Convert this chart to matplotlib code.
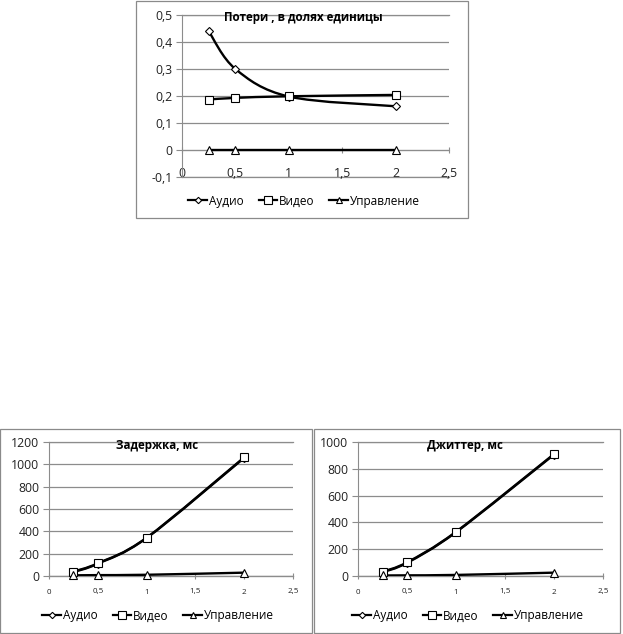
import matplotlib
matplotlib.use("Agg")
import matplotlib.pyplot as plt
from matplotlib.path import Path
from matplotlib.patches import PathPatch, Rectangle
from matplotlib.lines import Line2D
from matplotlib.ticker import FuncFormatter

plt.rcParams['font.family'] = ['Open Sans', 'DejaVu Sans']

# данные
x = [0.25, 0.5, 1, 2]

loss_audio = [0.44, 0.30, 0.198, 0.162]
loss_video = [0.187, 0.193, 0.199, 0.204]
loss_ctrl = [0, 0, 0, 0]

delay_audio = [35, 110, 340, 1058]
delay_video = [40, 114, 343, 1063]
delay_ctrl = [6, 8, 11, 30]

jitter_audio = [28, 98, 327, 906]
jitter_video = [32, 102, 330, 910]
jitter_ctrl = [4, 5, 8, 25]

names = ['Аудио', 'Видео', 'Управление']
markers = ['D', 's', '^']
msizes = [3.8, 6.2, 5.8]

W, H = 623, 634
fig = plt.figure(figsize=(W / 100, H / 100), dpi=100)
GRID = '#8c8c8c'


def px_rect(x0, y0, x1, y1):
    return [x0 / W, 1 - y1 / H, (x1 - x0) / W, (y1 - y0) / H]


def smooth(ax, xs, ys, lw):
    # сглаженная линия как в Excel (Catmull-Rom -> Безье)
    pts = list(zip(xs, ys))
    ext = [pts[0]] + pts + [pts[-1]]
    verts = [pts[0]]
    codes = [Path.MOVETO]
    for i in range(1, len(ext) - 2):
        p0, p1, p2, p3 = ext[i - 1], ext[i], ext[i + 1], ext[i + 2]
        c1 = (p1[0] + (p2[0] - p0[0]) / 6, p1[1] + (p2[1] - p0[1]) / 6)
        c2 = (p2[0] - (p3[0] - p1[0]) / 6, p2[1] - (p3[1] - p1[1]) / 6)
        verts += [c1, c2, p2]
        codes += [Path.CURVE4] * 3
    ax.add_patch(PathPatch(Path(verts, codes), fill=False, ec='black', lw=lw,
                           zorder=3, capstyle='round'))


def comma(v, pos):
    s = ('%g' % round(v, 6)).replace('.', ',')
    return s


def make_chart(rect, series, ylim, ystep, title, title_xy, tick_fs, xtick_fs,
               xlab_pad, leg_xy, box):
    fig.patches.append(Rectangle((box[0] / W, 1 - box[3] / H),
                                 (box[2] - box[0]) / W, (box[3] - box[1]) / H,
                                 transform=fig.transFigure, fill=False,
                                 ec='#8a8a8a', lw=0.9))
    ax = fig.add_axes(rect)
    ax.set_xlim(0, 2.5)
    ax.set_ylim(*ylim)
    ax.patch.set_alpha(0)
    for s in ['top', 'right']:
        ax.spines[s].set_visible(False)
    ax.spines['left'].set_color(GRID)
    ax.spines['bottom'].set_color(GRID)
    ax.spines['bottom'].set_position(('data', 0))
    yt = []
    v = ylim[0]
    while v <= ylim[1] + 1e-9:
        yt.append(round(v, 6))
        v += ystep
    ax.set_yticks(yt)
    ax.set_xticks([0, 0.5, 1, 1.5, 2, 2.5])
    ax.xaxis.set_major_formatter(FuncFormatter(comma))
    ax.yaxis.set_major_formatter(FuncFormatter(comma))
    ax.grid(axis='y', color=GRID, lw=0.9)
    for yv in (ylim[0], ylim[1]):
        ax.axhline(yv, color=GRID, lw=0.9, clip_on=False, zorder=1)
    ax.tick_params(axis='y', length=4, color=GRID, labelsize=tick_fs, pad=3,
                   labelcolor='#222222')
    ax.tick_params(axis='x', length=4, direction='inout', color=GRID,
                   labelsize=xtick_fs, pad=xlab_pad, labelcolor='#222222')
    for (ys, lw), mk, ms in zip(series, markers, msizes):
        smooth(ax, x, ys, lw)
        ax.plot(x, ys, ls='none', marker=mk, ms=ms, mfc='white', mec='black',
                mew=0.8, zorder=4, clip_on=False)
    fig.text(title_xy[0] / W, 1 - title_xy[1] / H, title, ha='center',
             va='center', fontsize=8.3, fontweight='bold')
    handles = [Line2D([], [], color='black', lw=1.6, marker=mk, ms=ms * 0.85,
                      mfc='white', mec='black', mew=0.8)
               for mk, ms in zip(markers, msizes)]
    fig.legend(handles, names, loc='center', ncol=3, frameon=False,
               bbox_to_anchor=(leg_xy[0] / W, 1 - leg_xy[1] / H),
               fontsize=8.5, handlelength=1.6, handletextpad=0.1,
               columnspacing=1.3, borderpad=0)
    return ax


make_chart(px_rect(182, 15, 449, 177),
           [(loss_audio, 1.7), (loss_video, 1.7), (loss_ctrl, 1.7)],
           (-0.1, 0.5), 0.1, 'Потери , в долях единицы', (303, 18),
           8.8, 8.8, 10, (304, 201), (136, 1, 468, 218))

make_chart(px_rect(49, 442, 293, 576),
           [(delay_audio, 1.7), (delay_video, 1.7), (delay_ctrl, 1.7)],
           (0, 1200), 200, 'Задержка, мс', (157, 445),
           8.8, 5.8, 7, (158, 616), (0, 429, 312, 633))

make_chart(px_rect(358, 442, 603, 576),
           [(jitter_audio, 1.7), (jitter_video, 1.7), (jitter_ctrl, 1.7)],
           (0, 1000), 200, 'Джиттер, мс', (465, 445),
           8.8, 5.8, 7, (468, 616), (314, 429, 620, 633))

fig.savefig('out.png', dpi=100)
